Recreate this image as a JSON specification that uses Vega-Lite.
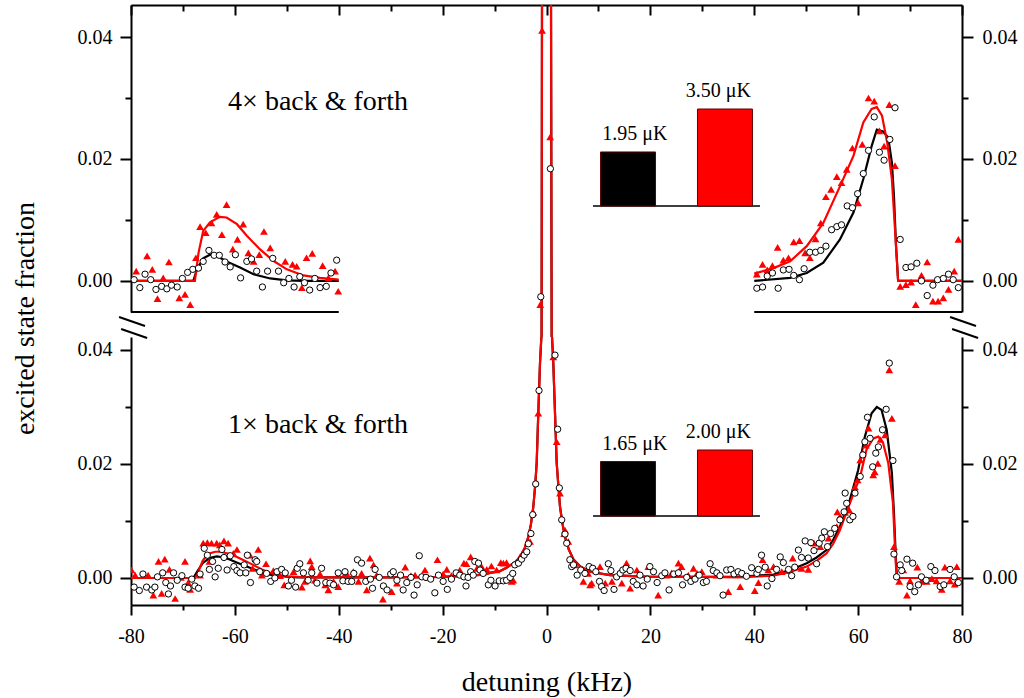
{
"$schema": "https://vega.github.io/schema/vega-lite/v6.json",
"usermeta": {"embedOptions": {"actions": false}},
"background": "white",
"padding": {"left": 10, "top": 4, "right": 5, "bottom": 5},
"spacing": 0,
"bounds": "flush",
"config": {
 "view": {"stroke": null},
 "font": "Liberation Serif",
 "axis": {"labelFont": "Liberation Serif", "titleFont": "Liberation Serif", "labelColor": "black", "titleColor": "black", "domainColor": "black", "tickColor": "black", "grid": false, "labelFontSize": 20, "titleFontSize": 28, "titleFontWeight": "normal", "domainWidth": 2, "tickWidth": 2, "labelFlush": false, "labelOverlap": false}
},
"datasets": {
 "ti": [{"label": "1.95 μK", "T": 1.95, "col": "k"}, {"label": "3.50 μK", "T": 3.5, "col": "r"}],
 "bi": [{"label": "1.65 μK", "T": 1.65, "col": "k"}, {"label": "2.00 μK", "T": 2.0, "col": "r"}],
 "tf": [
  {"c":"k","p":"L","x":-80,"y":0},{"c":"k","p":"L","x":-68,"y":0},{"c":"k","p":"L","x":-67.3,"y":0.0019},{"c":"k","p":"L","x":-66.1,"y":0.0037},{"c":"k","p":"L","x":-64.8,"y":0.0043},{"c":"k","p":"L","x":-63.5,"y":0.0041},{"c":"k","p":"L","x":-61.6,"y":0.0032},{"c":"k","p":"L","x":-59,"y":0.0022},{"c":"k","p":"L","x":-56.4,"y":0.0011},{"c":"k","p":"L","x":-53.2,"y":0.0004},{"c":"k","p":"L","x":-50,"y":0.0001},{"c":"k","p":"L","x":-46.8,"y":0},{"c":"k","p":"L","x":-40,"y":0},
  {"c":"r","p":"L","x":-80,"y":0},{"c":"r","p":"L","x":-67.7,"y":0},{"c":"r","p":"L","x":-67,"y":0.0046},{"c":"r","p":"L","x":-66.1,"y":0.0082},{"c":"r","p":"L","x":-64.8,"y":0.0096},{"c":"r","p":"L","x":-62.9,"y":0.0105},{"c":"r","p":"L","x":-61.6,"y":0.0104},{"c":"r","p":"L","x":-59.6,"y":0.0093},{"c":"r","p":"L","x":-57.7,"y":0.0074},{"c":"r","p":"L","x":-55.2,"y":0.0052},{"c":"r","p":"L","x":-52.6,"y":0.0033},{"c":"r","p":"L","x":-50,"y":0.0019},{"c":"r","p":"L","x":-46.8,"y":0.0009},{"c":"r","p":"L","x":-43.6,"y":0.0005},{"c":"r","p":"L","x":-40,"y":0.0002},
  {"c":"k","p":"C","x":-0.95,"y":-0.012},{"c":"k","p":"C","x":-0.86,"y":0.05},{"c":"k","p":"C","x":0,"y":0.09},{"c":"k","p":"C","x":0.86,"y":0.05},{"c":"k","p":"C","x":1.0,"y":-0.012},
  {"c":"r","p":"C","x":-0.95,"y":-0.012},{"c":"r","p":"C","x":-0.86,"y":0.05},{"c":"r","p":"C","x":0,"y":0.09},{"c":"r","p":"C","x":0.86,"y":0.05},{"c":"r","p":"C","x":1.0,"y":-0.012},
  {"c":"k","p":"R","x":40,"y":0},{"c":"k","p":"R","x":46.9,"y":0.0005},{"c":"k","p":"R","x":50.1,"y":0.0013},{"c":"k","p":"R","x":53.3,"y":0.003},{"c":"k","p":"R","x":56.5,"y":0.0068},{"c":"k","p":"R","x":59.1,"y":0.0112},{"c":"k","p":"R","x":61,"y":0.0167},{"c":"k","p":"R","x":62.6,"y":0.0221},{"c":"k","p":"R","x":63.6,"y":0.0248},{"c":"k","p":"R","x":64.8,"y":0.0245},{"c":"k","p":"R","x":65.8,"y":0.0235},{"c":"k","p":"R","x":66.5,"y":0.0194},{"c":"k","p":"R","x":66.9,"y":0.0139},{"c":"k","p":"R","x":67.3,"y":0.0057},{"c":"k","p":"R","x":67.7,"y":0},{"c":"k","p":"R","x":80,"y":0},
  {"c":"r","p":"R","x":40,"y":0.0012},{"c":"r","p":"R","x":43.7,"y":0.0021},{"c":"r","p":"R","x":46.9,"y":0.0032},{"c":"r","p":"R","x":50.1,"y":0.0057},{"c":"r","p":"R","x":53.3,"y":0.0095},{"c":"r","p":"R","x":56.5,"y":0.0155},{"c":"r","p":"R","x":59.1,"y":0.0205},{"c":"r","p":"R","x":61,"y":0.026},{"c":"r","p":"R","x":62.6,"y":0.0282},{"c":"r","p":"R","x":63.6,"y":0.0285},{"c":"r","p":"R","x":64.6,"y":0.0271},{"c":"r","p":"R","x":65.6,"y":0.0227},{"c":"r","p":"R","x":66.5,"y":0.0167},{"c":"r","p":"R","x":67.1,"y":0.0085},{"c":"r","p":"R","x":67.7,"y":0},{"c":"r","p":"R","x":80,"y":0}
 ],
 "bf": [
  {"c":"k","x":-80,"y":0},{"c":"k","x":-68,"y":0},{"c":"k","x":-67.2,"y":0.0012},{"c":"k","x":-66.2,"y":0.0026},{"c":"k","x":-64.9,"y":0.0035},{"c":"k","x":-63.5,"y":0.0038},{"c":"k","x":-62,"y":0.0036},{"c":"k","x":-60.9,"y":0.0032},{"c":"k","x":-59.3,"y":0.0026},{"c":"k","x":-57.7,"y":0.002},{"c":"k","x":-56,"y":0.0014},{"c":"k","x":-54.6,"y":0.0009},{"c":"k","x":-52.8,"y":0.0005},{"c":"k","x":-51.3,"y":0.0003},{"c":"k","x":-48,"y":0.0001},{"c":"k","x":-30,"y":0.0001},{"c":"k","x":-20,"y":0.0002},{"c":"k","x":-15,"y":0.0004},{"c":"k","x":-12,"y":0.0006},{"c":"k","x":-10.9,"y":0.0009},{"c":"k","x":-9,"y":0.0012},{"c":"k","x":-7.7,"y":0.0018},{"c":"k","x":-6,"y":0.0028},{"c":"k","x":-5.1,"y":0.0037},{"c":"k","x":-4.2,"y":0.0052},{"c":"k","x":-3.5,"y":0.0072},{"c":"k","x":-3,"y":0.0094},{"c":"k","x":-2.54,"y":0.0125},{"c":"k","x":-2.2,"y":0.016},{"c":"k","x":-1.89,"y":0.0202},{"c":"k","x":-1.58,"y":0.0289},{"c":"k","x":-1.25,"y":0.0377},{"c":"k","x":-0.92,"y":0.0435},{"c":"k","x":-0.6,"y":0.055},{"c":"k","x":0,"y":0.074},{"c":"k","x":0.65,"y":0.055},{"c":"k","x":1.0,"y":0.0435},{"c":"k","x":1.31,"y":0.0377},{"c":"k","x":1.64,"y":0.0289},{"c":"k","x":1.96,"y":0.0202},{"c":"k","x":2.3,"y":0.016},{"c":"k","x":2.6,"y":0.0125},{"c":"k","x":3.1,"y":0.0094},{"c":"k","x":3.56,"y":0.0072},{"c":"k","x":4.3,"y":0.005},{"c":"k","x":5.16,"y":0.0033},{"c":"k","x":6.5,"y":0.002},{"c":"k","x":8.4,"y":0.0011},{"c":"k","x":12.2,"y":0.0005},{"c":"k","x":20,"y":0.0002},{"c":"k","x":30,"y":0.0002},{"c":"k","x":37,"y":0.0002},{"c":"k","x":43.7,"y":0.0006},{"c":"k","x":47,"y":0.0014},{"c":"k","x":50.1,"y":0.0026},{"c":"k","x":52,"y":0.0036},{"c":"k","x":53.9,"y":0.0049},{"c":"k","x":55.2,"y":0.0067},{"c":"k","x":56.5,"y":0.009},{"c":"k","x":58.4,"y":0.0137},{"c":"k","x":60,"y":0.0189},{"c":"k","x":61.3,"y":0.0248},{"c":"k","x":62.6,"y":0.0289},{"c":"k","x":63.6,"y":0.03},{"c":"k","x":64.5,"y":0.0295},{"c":"k","x":65.5,"y":0.026},{"c":"k","x":66.5,"y":0.0184},{"c":"k","x":66.9,"y":0.0114},{"c":"k","x":67.3,"y":0.0026},{"c":"k","x":67.5,"y":0},{"c":"k","x":80,"y":0},
  {"c":"r","x":-80,"y":0},{"c":"r","x":-67.6,"y":0},{"c":"r","x":-67,"y":0.0012},{"c":"r","x":-66.2,"y":0.003},{"c":"r","x":-65.2,"y":0.0042},{"c":"r","x":-63.8,"y":0.0046},{"c":"r","x":-62.9,"y":0.0046},{"c":"r","x":-61.3,"y":0.0043},{"c":"r","x":-59.6,"y":0.0037},{"c":"r","x":-58,"y":0.003},{"c":"r","x":-56.5,"y":0.0023},{"c":"r","x":-54.8,"y":0.0015},{"c":"r","x":-53.2,"y":0.0009},{"c":"r","x":-51.5,"y":0.0005},{"c":"r","x":-50,"y":0.0003},{"c":"r","x":-46.2,"y":0.0001},{"c":"r","x":-30,"y":0.0001},{"c":"r","x":-20,"y":0.0002},{"c":"r","x":-15,"y":0.0004},{"c":"r","x":-12,"y":0.0006},{"c":"r","x":-10.9,"y":0.0009},{"c":"r","x":-9,"y":0.0012},{"c":"r","x":-7.7,"y":0.0018},{"c":"r","x":-6,"y":0.0028},{"c":"r","x":-5.1,"y":0.0037},{"c":"r","x":-4.2,"y":0.0052},{"c":"r","x":-3.5,"y":0.0072},{"c":"r","x":-3,"y":0.0094},{"c":"r","x":-2.54,"y":0.0125},{"c":"r","x":-2.2,"y":0.016},{"c":"r","x":-1.89,"y":0.0202},{"c":"r","x":-1.58,"y":0.0289},{"c":"r","x":-1.25,"y":0.0377},{"c":"r","x":-0.92,"y":0.0435},{"c":"r","x":-0.6,"y":0.055},{"c":"r","x":0,"y":0.074},{"c":"r","x":0.65,"y":0.055},{"c":"r","x":1.0,"y":0.0435},{"c":"r","x":1.31,"y":0.0377},{"c":"r","x":1.64,"y":0.0289},{"c":"r","x":1.96,"y":0.0202},{"c":"r","x":2.3,"y":0.016},{"c":"r","x":2.6,"y":0.0125},{"c":"r","x":3.1,"y":0.0094},{"c":"r","x":3.56,"y":0.0072},{"c":"r","x":4.3,"y":0.005},{"c":"r","x":5.16,"y":0.0033},{"c":"r","x":6.5,"y":0.002},{"c":"r","x":8.4,"y":0.0011},{"c":"r","x":12.2,"y":0.0005},{"c":"r","x":20,"y":0.0002},{"c":"r","x":30,"y":0.0002},{"c":"r","x":37,"y":0.0001},{"c":"r","x":43.7,"y":0.0004},{"c":"r","x":47,"y":0.0011},{"c":"r","x":50.1,"y":0.002},{"c":"r","x":52,"y":0.003},{"c":"r","x":53.9,"y":0.0043},{"c":"r","x":55.2,"y":0.006},{"c":"r","x":56.5,"y":0.0084},{"c":"r","x":58.4,"y":0.0131},{"c":"r","x":60.4,"y":0.0178},{"c":"r","x":61.6,"y":0.0225},{"c":"r","x":62.9,"y":0.0245},{"c":"r","x":63.9,"y":0.0248},{"c":"r","x":64.8,"y":0.0237},{"c":"r","x":65.8,"y":0.0202},{"c":"r","x":66.7,"y":0.0132},{"c":"r","x":67.1,"y":0.0055},{"c":"r","x":67.4,"y":0},{"c":"r","x":80,"y":0}
 ],
 "tt": [
  {"x":-79.0,"y":0.0016},{"x":-76.9,"y":0.0041},{"x":-75.9,"y":0.0019},{"x":-74.9,"y":-0.0029},{"x":-73.8,"y":0.0005},{"x":-72.7,"y":0.0031},{"x":-70.7,"y":-0.0028},{"x":-69.6,"y":-0.0022},{"x":-68.6,"y":-0.0039},{"x":-67.5,"y":0.0038},{"x":-66.7,"y":0.0089},{"x":-65.6,"y":0.0079},{"x":-64.5,"y":0.0095},{"x":-63.5,"y":0.0109},{"x":-62.5,"y":0.0076},{"x":-61.6,"y":0.0125},{"x":-60.4,"y":0.0052},{"x":-59.5,"y":0.0068},{"x":-58.4,"y":0.0093},{"x":-57.4,"y":0.0046},{"x":-56.4,"y":0.0032},{"x":-55.3,"y":0.0043},{"x":-54.4,"y":0.0081},{"x":-53.2,"y":0.0054},{"x":-50.3,"y":0.0032},{"x":-48.9,"y":0.0027},{"x":-48.1,"y":0.0024},{"x":-47.1,"y":-0.0011},{"x":-46.2,"y":0.0038},{"x":-45.1,"y":0.0045},{"x":-43.1,"y":0.0025},{"x":-42.0,"y":0.0005},{"x":-40.7,"y":0.0016},{"x":-40.1,"y":-0.0017},
  {"x":-1.2,"y":-0.0039},{"x":-0.85,"y":0.0411},{"x":0.7,"y":0.0236},
  {"x":40.5,"y":0.0011},{"x":41.6,"y":0.0027},{"x":42.5,"y":0.0018},{"x":43.5,"y":0.0025},{"x":44.5,"y":0.0055},{"x":45.6,"y":0.0034},{"x":46.6,"y":0.0038},{"x":47.6,"y":0.0064},{"x":48.7,"y":0.0066},{"x":49.8,"y":0.0046},{"x":50.7,"y":0.0038},{"x":51.8,"y":0.0069},{"x":52.8,"y":0.0095},{"x":53.8,"y":0.0138},{"x":54.8,"y":0.015},{"x":55.9,"y":0.0171},{"x":56.8,"y":0.0161},{"x":57.8,"y":0.0183},{"x":58.9,"y":0.0218},{"x":60.0,"y":0.0128},{"x":60.8,"y":0.0224},{"x":62.0,"y":0.030},{"x":63.1,"y":0.0295},{"x":64.1,"y":0.0246},{"x":65.0,"y":0.0221},{"x":66.0,"y":0.0289},{"x":67.1,"y":0.0189},{"x":68.1,"y":-0.0009},{"x":69.2,"y":-0.0006},{"x":70.2,"y":-0.0002},{"x":71.1,"y":-0.0039},{"x":72.2,"y":0.0009},{"x":73.3,"y":0.0031},{"x":74.4,"y":-0.0033},{"x":75.4,"y":-0.0033},{"x":76.4,"y":-0.0028},{"x":77.4,"y":-0.0014},{"x":78.5,"y":0.0016},{"x":79.3,"y":0.0068}
 ],
 "tc": [
  {"x":-79.4,"y":0.0002},{"x":-78.3,"y":-0.0011},{"x":-77.3,"y":0.0011},{"x":-76.2,"y":0.0002},{"x":-75.2,"y":-0.0014},{"x":-74.1,"y":-0.0009},{"x":-73.1,"y":-0.0013},{"x":-72.2,"y":-0.0007},{"x":-71.1,"y":-0.001},{"x":-70.1,"y":0.0004},{"x":-69.1,"y":0.0014},{"x":-68.1,"y":0.0019},{"x":-67.0,"y":0.0021},{"x":-66.1,"y":0.0032},{"x":-65.0,"y":0.005},{"x":-64.0,"y":0.0042},{"x":-63.0,"y":0.0042},{"x":-61.9,"y":0.0031},{"x":-60.9,"y":0.0023},{"x":-59.9,"y":0.0043},{"x":-58.9,"y":0.0005},{"x":-57.7,"y":0.0032},{"x":-56.8,"y":0.0036},{"x":-55.8,"y":0.0016},{"x":-54.7,"y":-0.001},{"x":-53.7,"y":0.0016},{"x":-52.7,"y":0.0037},{"x":-51.6,"y":0.0016},{"x":-50.6,"y":-0.0003},{"x":-49.6,"y":0.0004},{"x":-48.6,"y":-0.001},{"x":-47.5,"y":0.0007},{"x":-46.6,"y":-0.0003},{"x":-45.6,"y":-0.0015},{"x":-44.6,"y":0.0004},{"x":-43.6,"y":-0.0011},{"x":-42.4,"y":-0.0009},{"x":-41.5,"y":0.0013},{"x":-40.4,"y":0.0034},
  {"x":-1.1,"y":-0.0026},{"x":0.75,"y":0.0184},
  {"x":40.5,"y":-0.0012},{"x":41.6,"y":-0.001},{"x":42.5,"y":0.0008},{"x":43.5,"y":0.0013},{"x":44.6,"y":-0.0012},{"x":45.6,"y":0.0018},{"x":46.7,"y":0.0019},{"x":47.6,"y":0.0009},{"x":48.7,"y":0.0002},{"x":49.6,"y":0.002},{"x":50.7,"y":0.0047},{"x":51.8,"y":0.0047},{"x":52.8,"y":0.005},{"x":53.8,"y":0.0057},{"x":54.9,"y":0.0084},{"x":55.9,"y":0.0089},{"x":56.8,"y":0.0092},{"x":57.9,"y":0.0123},{"x":58.9,"y":0.012},{"x":59.9,"y":0.0143},{"x":61.0,"y":0.0176},{"x":62.0,"y":0.0214},{"x":63.1,"y":0.0269},{"x":64.1,"y":0.0211},{"x":65.0,"y":0.0198},{"x":66.1,"y":0.0232},{"x":67.1,"y":0.0284},{"x":68.1,"y":0.0068},{"x":69.2,"y":0.0022},{"x":70.2,"y":0.0023},{"x":71.3,"y":0.0029},{"x":72.2,"y":0},{"x":73.3,"y":-0.0024},{"x":74.4,"y":-0.0007},{"x":75.3,"y":0.0002},{"x":76.4,"y":0.0004},{"x":77.4,"y":0.0011},{"x":78.3,"y":0.0002},{"x":79.3,"y":-0.0011}
 ],
 "bt": [
  {"x":-79.9,"y":0.0014},{"x":-79.2,"y":0.0005},{"x":-76.7,"y":0.0005},{"x":-75.7,"y":-0.003},{"x":-74.7,"y":0.0029},{"x":-74.1,"y":-0.0027},{"x":-73.5,"y":0.0033},{"x":-72.6,"y":0.0015},{"x":-71.5,"y":-0.0036},{"x":-70.4,"y":0.0001},{"x":-69.6,"y":0.0029},{"x":-69.0,"y":-0.0008},{"x":-68.6,"y":-0.002},{"x":-66.7,"y":0.0005},{"x":-66.1,"y":0.0061},{"x":-65.3,"y":0.0062},{"x":-64.9,"y":0.0029},{"x":-64.5,"y":0.0061},{"x":-63.5,"y":0.0061},{"x":-62.9,"y":0.0058},{"x":-62.1,"y":0.0065},{"x":-61.3,"y":0.0061},{"x":-60.3,"y":0.0043},{"x":-59.6,"y":0.005},{"x":-57.1,"y":0.004},{"x":-56.6,"y":0.0017},{"x":-55.5,"y":0.005},{"x":-54.8,"y":0.0005},{"x":-54.0,"y":0.0025},{"x":-52.6,"y":0.0013},{"x":-51.3,"y":0.0004},{"x":-50.5,"y":-0.0012},{"x":-48.7,"y":0.0011},{"x":-47.1,"y":-0.0016},{"x":-46.5,"y":-0.0006},{"x":-45.5,"y":0.003},{"x":-45.2,"y":0.002},{"x":-44.6,"y":-0.0004},{"x":-43.6,"y":0.0007},{"x":-42.6,"y":-0.0012},{"x":-42.0,"y":-0.0021},{"x":-41.0,"y":-0.0006},{"x":-40.1,"y":-0.0015},{"x":-39.1,"y":0.0002},{"x":-38.5,"y":0.0008},{"x":-37.2,"y":0.0011},{"x":-36.2,"y":-0.0006},{"x":-35.6,"y":0.0008},{"x":-34.6,"y":-0.0021},{"x":-34.0,"y":0.0035},{"x":-33.3,"y":0.0023},{"x":-32.7,"y":0.0005},{"x":-31.5,"y":-0.0037},{"x":-29.8,"y":-0.0024},{"x":-28.8,"y":-0.0009},{"x":-27.2,"y":0.0019},{"x":-26.1,"y":0.0004},{"x":-25.3,"y":0.0005},{"x":-23.4,"y":0.0014},{"x":-22.8,"y":0.0001},{"x":-21.0,"y":0.0032},{"x":-19.9,"y":0.0007},{"x":-19.2,"y":0.0015},{"x":-18.3,"y":0.0004},{"x":-16.7,"y":0.0014},{"x":-15.9,"y":0.0026},{"x":-15.4,"y":0.0025},{"x":-14.6,"y":0.0037},{"x":-13.4,"y":0.0017},{"x":-12.5,"y":0.002},{"x":-11.5,"y":0.0015},{"x":-10.6,"y":0.0021},{"x":-9.6,"y":0.0014},{"x":-8.8,"y":0.0027},{"x":-8.3,"y":0.0026},{"x":-7.7,"y":0.0027},{"x":-6.7,"y":-0.0006},{"x":-6.4,"y":-0.0004},{"x":-5.9,"y":0.0026},{"x":-5.1,"y":0.0037},{"x":-4.47,"y":0.0044},{"x":-4.1,"y":0.0046},{"x":-3.5,"y":0.0064},{"x":-3.18,"y":0.0064},{"x":-2.54,"y":0.0115},{"x":-1.58,"y":0.0289},
  {"x":1.31,"y":0.0388},{"x":1.96,"y":0.0239},{"x":2.6,"y":0.0149},{"x":3.4,"y":0.0078},{"x":3.56,"y":0.0084},{"x":4.2,"y":0.0064},{"x":5.5,"y":0.0023},{"x":7.1,"y":-0.0006},{"x":8.0,"y":0.0008},{"x":8.4,"y":-0.0012},{"x":8.7,"y":-0.0009},{"x":10.3,"y":0.002},{"x":11.3,"y":-0.0009},{"x":12.6,"y":-0.0006},{"x":14.5,"y":-0.0009},{"x":15.4,"y":0.0026},{"x":16.1,"y":-0.0018},{"x":17.4,"y":0.0014},{"x":19.6,"y":0.002},{"x":21.5,"y":-0.003},{"x":23.1,"y":0.0005},{"x":24.1,"y":0.0009},{"x":25.4,"y":0.0026},{"x":26.0,"y":0.002},{"x":27.3,"y":0.0005},{"x":28.3,"y":0.0017},{"x":29.0,"y":0.0008},{"x":29.9,"y":0.0011},{"x":32.8,"y":0.0005},{"x":35.0,"y":-0.0024},{"x":37.3,"y":-0.0015},{"x":40.1,"y":-0.0022},{"x":40.8,"y":-0.0008},{"x":41.6,"y":0.0032},{"x":42.7,"y":0.0014},{"x":43.7,"y":0.002},{"x":45.3,"y":0.0011},{"x":46.9,"y":0.0013},{"x":47.4,"y":0.0035},{"x":49.1,"y":0.0017},{"x":50.4,"y":0.0015},{"x":51.5,"y":0.0061},{"x":52.7,"y":0.0055},{"x":54.3,"y":0.007},{"x":55.9,"y":0.009},{"x":56.0,"y":0.0116},{"x":56.5,"y":0.0108},{"x":57.5,"y":0.0115},{"x":58.3,"y":0.0119},{"x":59.4,"y":0.016},{"x":59.9,"y":0.0172},{"x":60.4,"y":0.0207},{"x":60.9,"y":0.0219},{"x":61.5,"y":0.0233},{"x":62.0,"y":0.0263},{"x":62.9,"y":0.0181},{"x":63.2,"y":0.0186},{"x":63.8,"y":0.0201},{"x":64.3,"y":0.0243},{"x":65.2,"y":0.0251},{"x":66.0,"y":0.0365},{"x":66.5,"y":0.028},{"x":66.9,"y":0.0055},{"x":67.9,"y":-0.0006},{"x":68.7,"y":0.0014},{"x":69.4,"y":-0.003},{"x":70.0,"y":-0.0005},{"x":71.4,"y":0.0019},{"x":72.2,"y":-0.0006},{"x":73.2,"y":-0.0006},{"x":74.2,"y":-0.0001},{"x":75.1,"y":-0.0005},{"x":76.1,"y":-0.002},{"x":76.7,"y":0.0019},{"x":77.7,"y":-0.0005},{"x":78.6,"y":-0.0011},{"x":79.0,"y":0.002}
 ],
 "bc": [
  {"x":-79.4,"y":-0.0016},{"x":-78.4,"y":-0.0022},{"x":-77.7,"y":0.0007},{"x":-77.0,"y":-0.0016},{"x":-76.0,"y":-0.0021},{"x":-75.4,"y":-0.0016},{"x":-74.9,"y":0.0002},{"x":-73.9,"y":0.0009},{"x":-73.3,"y":-0.0008},{"x":-72.8,"y":-0.0028},{"x":-72.4,"y":-0.0014},{"x":-71.8,"y":0.0009},{"x":-71.1,"y":-0.0004},{"x":-70.2,"y":0.0004},{"x":-69.6,"y":-0.0016},{"x":-69.0,"y":-0.0018},{"x":-68.3,"y":-0.0002},{"x":-67.7,"y":-0.0014},{"x":-67.0,"y":-0.0018},{"x":-66.7,"y":0.0007},{"x":-65.9,"y":0.0052},{"x":-65.3,"y":0.004},{"x":-64.9,"y":0.0015},{"x":-64.3,"y":0.0029},{"x":-63.8,"y":0.0002},{"x":-63.2,"y":0.0017},{"x":-62.5,"y":0.005},{"x":-62.1,"y":0.0036},{"x":-61.5,"y":0.0014},{"x":-60.9,"y":0.0039},{"x":-60.2,"y":0.002},{"x":-59.6,"y":0.0013},{"x":-59.0,"y":0.0009},{"x":-58.2,"y":0.0023},{"x":-57.9,"y":0.0009},{"x":-57.6,"y":0.004},{"x":-57.0,"y":-0.0008},{"x":-56.1,"y":0.0032},{"x":-55.8,"y":0.0029},{"x":-55.2,"y":0.0011},{"x":-53.9,"y":0.0008},{"x":-53.1,"y":-0.0006},{"x":-52.3,"y":0},{"x":-51.9,"y":0.0011},{"x":-51.0,"y":0.0015},{"x":-50.3,"y":0.0009},{"x":-49.7,"y":-0.0014},{"x":-49.1,"y":-0.0004},{"x":-48.3,"y":-0.0016},{"x":-48.0,"y":0.0017},{"x":-47.5,"y":0.0025},{"x":-46.8,"y":0.0009},{"x":-45.9,"y":-0.0004},{"x":-45.2,"y":0.0009},{"x":-44.2,"y":-0.0009},{"x":-43.3,"y":0.0017},{"x":-42.5,"y":-0.0008},{"x":-41.7,"y":-0.0009},{"x":-41.0,"y":-0.0012},{"x":-40.1,"y":0.0009},{"x":-39.2,"y":-0.0005},{"x":-38.8,"y":0.0011},{"x":-38.2,"y":-0.0006},{"x":-37.5,"y":-0.0006},{"x":-37.1,"y":0.0008},{"x":-36.4,"y":0.0032},{"x":-35.6,"y":0.0026},{"x":-34.8,"y":-0.0006},{"x":-33.9,"y":-0.0002},{"x":-33.5,"y":-0.0018},{"x":-33.0,"y":0.0015},{"x":-32.2,"y":0.0001},{"x":-31.4,"y":-0.0014},{"x":-30.7,"y":-0.0021},{"x":-30.0,"y":0.0007},{"x":-29.5,"y":0.0011},{"x":-28.8,"y":-0.0004},{"x":-28.1,"y":0.0005},{"x":-27.6,"y":-0.0021},{"x":-26.9,"y":-0.0008},{"x":-26.1,"y":0.0001},{"x":-25.5,"y":-0.003},{"x":-24.9,"y":-0.0012},{"x":-24.5,"y":0.0039},{"x":-24.0,"y":0.0002},{"x":-23.2,"y":0.0001},{"x":-22.3,"y":-0.0002},{"x":-21.5,"y":-0.0026},{"x":-20.8,"y":0.0005},{"x":-19.9,"y":-0.0006},{"x":-19.1,"y":-0.002},{"x":-18.3,"y":-0.0002},{"x":-17.4,"y":0.0009},{"x":-16.7,"y":0.0005},{"x":-15.9,"y":0.0002},{"x":-15.5,"y":-0.0014},{"x":-15.1,"y":0.0001},{"x":-14.6,"y":0.0011},{"x":-14.1,"y":0.0005},{"x":-13.8,"y":0.0029},{"x":-13.1,"y":0.0026},{"x":-12.8,"y":0.0014},{"x":-12.2,"y":0.0008},{"x":-11.2,"y":-0.0012},{"x":-10.7,"y":-0.0004},{"x":-9.9,"y":-0.0014},{"x":-9.1,"y":-0.0005},{"x":-8.3,"y":-0.0005},{"x":-7.7,"y":-0.0004},{"x":-7.0,"y":0.0001},{"x":-6.5,"y":0.0008},{"x":-6.1,"y":0.0023},{"x":-5.4,"y":0.0026},{"x":-4.8,"y":0.0033},{"x":-4.3,"y":0.004},{"x":-3.8,"y":0.0046},{"x":-3.5,"y":0.006},{"x":-3.0,"y":0.0078},{"x":-2.66,"y":0.0111},{"x":-2.08,"y":0.0165},{"x":-1.44,"y":0.0329},
  {"x":1.64,"y":0.0391},{"x":2.15,"y":0.0261},{"x":2.47,"y":0.0158},{"x":2.93,"y":0.0102},{"x":3.56,"y":0.0077},{"x":3.89,"y":0.0061},{"x":4.5,"y":0.0032},{"x":4.85,"y":0.002},{"x":5.2,"y":0.0023},{"x":5.9,"y":0.0005},{"x":6.6,"y":0.0014},{"x":7.4,"y":0.0008},{"x":8.2,"y":0.002},{"x":8.9,"y":0.0017},{"x":9.5,"y":0.0011},{"x":10.2,"y":-0.0006},{"x":10.6,"y":-0.0015},{"x":11.1,"y":-0.0022},{"x":11.9,"y":0.0025},{"x":12.4,"y":0.0013},{"x":13.0,"y":-0.002},{"x":13.5,"y":0.0002},{"x":14.2,"y":0.0008},{"x":14.7,"y":0.0014},{"x":15.3,"y":0.0017},{"x":16.1,"y":0.0013},{"x":16.7,"y":-0.0006},{"x":17.4,"y":-0.0012},{"x":18.0,"y":0.0005},{"x":18.6,"y":-0.0014},{"x":19.4,"y":-0.0002},{"x":19.9,"y":0.002},{"x":20.6,"y":0.0011},{"x":21.3,"y":-0.0008},{"x":22.2,"y":0.0004},{"x":22.8,"y":0.0009},{"x":23.6,"y":-0.0021},{"x":24.5,"y":0.0007},{"x":25.4,"y":0.0009},{"x":26.2,"y":-0.0012},{"x":27.0,"y":0.0001},{"x":27.8,"y":-0.0006},{"x":28.6,"y":-0.0002},{"x":29.4,"y":0.0005},{"x":30.2,"y":-0.0008},{"x":30.8,"y":-0.0006},{"x":31.5,"y":0.0025},{"x":32.1,"y":0.0013},{"x":32.8,"y":0.0009},{"x":33.4,"y":0.0004},{"x":34.0,"y":-0.003},{"x":34.7,"y":0.0014},{"x":35.5,"y":0.0015},{"x":36.1,"y":0.0007},{"x":36.9,"y":0.0011},{"x":37.6,"y":0.0008},{"x":38.5,"y":0.0003},{"x":39.5,"y":0.0018},{"x":40.5,"y":0.0008},{"x":40.8,"y":0.0015},{"x":41.4,"y":0.004},{"x":42.1,"y":0.0019},{"x":42.5,"y":-0.0014},{"x":43.4,"y":-0.0001},{"x":44.3,"y":0.0015},{"x":45.0,"y":0.0037},{"x":45.6,"y":0.0027},{"x":46.6,"y":0.0015},{"x":47.2,"y":0.0004},{"x":47.8,"y":0.0019},{"x":48.5,"y":0.0049},{"x":49.1,"y":0.0036},{"x":49.8,"y":0.0065},{"x":50.4,"y":0.0035},{"x":50.9,"y":0.0062},{"x":51.5,"y":0.0048},{"x":52.0,"y":0.0025},{"x":52.5,"y":0.0061},{"x":53.0,"y":0.007},{"x":53.5,"y":0.0081},{"x":54.1,"y":0.0055},{"x":54.7,"y":0.0078},{"x":55.5,"y":0.0087},{"x":56.5,"y":0.0102},{"x":57.3,"y":0.0116},{"x":57.5,"y":0.0149},{"x":57.8,"y":0.0131},{"x":58.4,"y":0.0102},{"x":59.0,"y":0.0108},{"x":59.4,"y":0.0149},{"x":60.4,"y":0.0178},{"x":60.9,"y":0.0216},{"x":61.3,"y":0.0239},{"x":61.8,"y":0.0282},{"x":62.3,"y":0.0245},{"x":62.8,"y":0.0195},{"x":63.4,"y":0.0219},{"x":63.9,"y":0.023},{"x":64.7,"y":0.026},{"x":65.4,"y":0.0296},{"x":66.0,"y":0.0377},{"x":66.7,"y":0.0206},{"x":66.9,"y":0.0042},{"x":67.4,"y":0.0002},{"x":68.1,"y":0.0023},{"x":68.4,"y":0.0013},{"x":69.4,"y":0.0033},{"x":70.0,"y":-0.0015},{"x":70.5,"y":0.0026},{"x":70.9,"y":-0.0024},{"x":71.6,"y":-0.0012},{"x":72.2,"y":0.0002},{"x":73.1,"y":-0.0004},{"x":74.0,"y":0.002},{"x":74.8,"y":0.0013},{"x":75.8,"y":-0.0015},{"x":76.5,"y":-0.0012},{"x":77.7,"y":0.0015},{"x":78.5,"y":0.0002},{"x":79.3,"y":-0.0008}
 ]
},
"vconcat": [
 {
  "width": 831, "height": 332,
  "layer": [
   {"data": {"name": "tf"}, "transform": [{"filter": "datum.c == 'k'"}],
    "mark": {"type": "line", "color": "black", "strokeWidth": 2.2, "clip": true},
    "encoding": {
     "x": {"field": "x", "type": "quantitative", "scale": {"domain": [-80, 80], "nice": false, "zero": false},
      "axis": {"orient": "top", "values": [-80,-60,-40,-20,0,20,40,60,80], "labels": false, "title": null, "tickSize": -10}},
     "y": {"field": "y", "type": "quantitative", "scale": {"domain": [-0.0051, 0.04525], "range": [307, 0], "nice": false, "zero": false},
      "axis": {"orient": "left", "values": [0, 0.01, 0.02, 0.03, 0.04], "labelExpr": "round(datum.value*100) % 2 == 0 ? format(datum.value, '.2f') : ''", "tickSize": {"condition": {"test": "round(datum.value*100) % 2 == 0", "value": 11}, "value": 6}, "labelPadding": 8, "title": null}},
     "detail": {"field": "p", "type": "nominal"}
    }},
   {"data": {"name": "tf"}, "transform": [{"filter": "datum.c == 'r'"}],
    "mark": {"type": "line", "color": "#ff0000", "strokeWidth": 2.2, "clip": true},
    "encoding": {
     "x": {"field": "x", "type": "quantitative", "scale": {"domain": [-80, 80], "nice": false, "zero": false},
      "axis": {"orient": "top", "values": [-70,-50,-30,-10,10,30,50,70], "labels": false, "domain": false, "title": null, "tickSize": -6}},
     "y": {"field": "y", "type": "quantitative", "scale": {"domain": [-0.0051, 0.04525], "range": [307, 0], "nice": false, "zero": false},
      "axis": {"orient": "right", "values": [0, 0.01, 0.02, 0.03, 0.04], "labelExpr": "round(datum.value*100) % 2 == 0 ? format(datum.value, '.2f') : ''", "tickSize": {"condition": {"test": "round(datum.value*100) % 2 == 0", "value": 11}, "value": 6}, "labelPadding": 9, "title": null}},
     "detail": {"field": "p", "type": "nominal"}
    }},
   {"data": {"name": "tt"},
    "mark": {"type": "point", "shape": "triangle-up", "filled": true, "color": "#ff0000", "size": 60, "opacity": 1, "clip": true},
    "encoding": {"x": {"field": "x", "type": "quantitative", "scale": {"domain": [-80, 80], "nice": false, "zero": false}, "axis": null}, "y": {"field": "y", "type": "quantitative", "scale": {"domain": [-0.0051, 0.04525], "range": [307, 0], "nice": false, "zero": false}, "axis": null}}},
   {"data": {"name": "tc"},
    "mark": {"type": "point", "shape": "circle", "filled": true, "fill": "white", "stroke": "black", "strokeWidth": 1, "size": 40, "opacity": 1, "clip": true},
    "encoding": {"x": {"field": "x", "type": "quantitative", "scale": {"domain": [-80, 80], "nice": false, "zero": false}, "axis": null}, "y": {"field": "y", "type": "quantitative", "scale": {"domain": [-0.0051, 0.04525], "range": [307, 0], "nice": false, "zero": false}, "axis": null}}},
   {"data": {"values": [{}]}, "mark": {"type": "rule", "color": "black", "strokeWidth": 2, "clip": false},
    "encoding": {"x": {"datum": -80, "scale": {"domain": [-80, 80], "nice": false, "zero": false}, "axis": null}, "x2": {"datum": -40}, "y": {"datum": -0.0051, "scale": {"domain": [-0.0051, 0.04525], "range": [307, 0], "nice": false, "zero": false}, "axis": null}}},
   {"data": {"values": [{}]}, "mark": {"type": "rule", "color": "black", "strokeWidth": 2, "clip": false},
    "encoding": {"x": {"datum": 40, "scale": {"domain": [-80, 80], "nice": false, "zero": false}, "axis": null}, "x2": {"datum": 80}, "y": {"datum": -0.0051, "scale": {"domain": [-0.0051, 0.04525], "range": [307, 0], "nice": false, "zero": false}, "axis": null}}},
   {"data": {"values": [{}]}, "mark": {"type": "rule", "color": "black", "strokeWidth": 1.5, "clip": false},
    "encoding": {"x": {"datum": 8.95, "scale": {"domain": [-80, 80], "nice": false, "zero": false}, "axis": null}, "x2": {"datum": 41.1}, "y": {"datum": 0.012285, "scale": {"domain": [-0.0051, 0.04525], "range": [307, 0], "nice": false, "zero": false}, "axis": null}}},
   {"data": {"values": [{}]}, "mark": {"type": "text", "align": "left", "baseline": "alphabetic", "fontSize": 28, "font": "Liberation Serif", "color": "black"},
    "encoding": {"x": {"datum": -61.3, "scale": {"domain": [-80, 80], "nice": false, "zero": false}, "axis": null}, "y": {"datum": 0.02795, "scale": {"domain": [-0.0051, 0.04525], "range": [307, 0], "nice": false, "zero": false}, "axis": null}, "text": {"value": "4× back & forth"}}},
   {"data": {"name": "ti"},
    "mark": {"type": "bar", "stroke": "#600000", "strokeWidth": 1},
    "encoding": {
     "x": {"field": "label", "type": "nominal", "sort": null, "scale": {"range": [462, 629], "paddingInner": 0.433, "paddingOuter": 0.078}, "axis": null},
     "y": {"field": "T", "type": "quantitative", "scale": {"domain": [0, 3.5], "range": [201, 104], "nice": false}, "axis": null},
     "color": {"field": "col", "type": "nominal", "scale": {"domain": ["k", "r"], "range": ["black", "#ff0000"]}, "legend": null}
    }},
   {"data": {"name": "ti"},
    "mark": {"type": "text", "baseline": "alphabetic", "dy": -12, "fontSize": 20, "font": "Liberation Serif", "color": "black"},
    "encoding": {
     "x": {"field": "label", "type": "nominal", "sort": null, "scale": {"range": [462, 629], "paddingInner": 0.433, "paddingOuter": 0.078}, "axis": null},
     "y": {"field": "T", "type": "quantitative", "scale": {"domain": [0, 3.5], "range": [201, 104], "nice": false}, "axis": null},
     "text": {"field": "label"}
    }}
  ],
  "resolve": {"scale": {"x": "independent", "y": "independent"}, "axis": {"x": "independent", "y": "independent"}}
 },
 {
  "width": 831, "height": 268,
  "layer": [
   {"data": {"name": "bf"}, "transform": [{"filter": "datum.c == 'k'"}],
    "mark": {"type": "line", "color": "black", "strokeWidth": 2.2, "clip": true},
    "encoding": {
     "x": {"field": "x", "type": "quantitative", "scale": {"domain": [-80, 80], "nice": false, "zero": false},
      "axis": {"orient": "bottom", "values": [-80,-60,-40,-20,0,20,40,60,80], "labelExpr": "'' + datum.value", "tickSize": 10, "labelPadding": 11, "title": "detuning (kHz)", "titleY": 85, "titleBaseline": "alphabetic"}},
     "y": {"field": "y", "type": "quantitative", "scale": {"domain": [-0.00474, 0.04228], "nice": false, "zero": false},
      "axis": {"orient": "left", "values": [0, 0.01, 0.02, 0.03, 0.04], "labelExpr": "round(datum.value*100) % 2 == 0 ? format(datum.value, '.2f') : ''", "tickSize": {"condition": {"test": "round(datum.value*100) % 2 == 0", "value": 11}, "value": 6}, "labelPadding": 8, "title": "excited state fraction", "titleX": -98, "titleY": -19, "titleAngle": -90, "titleAlign": "center", "titleBaseline": "alphabetic"}}
    }},
   {"data": {"name": "bf"}, "transform": [{"filter": "datum.c == 'r'"}],
    "mark": {"type": "line", "color": "#ff0000", "strokeWidth": 2.2, "clip": true},
    "encoding": {
     "x": {"field": "x", "type": "quantitative", "scale": {"domain": [-80, 80], "nice": false, "zero": false},
      "axis": {"orient": "bottom", "values": [-70,-50,-30,-10,10,30,50,70], "labels": false, "domain": false, "title": null, "tickSize": 5}},
     "y": {"field": "y", "type": "quantitative", "scale": {"domain": [-0.00474, 0.04228], "nice": false, "zero": false},
      "axis": {"orient": "right", "values": [0, 0.01, 0.02, 0.03, 0.04], "labelExpr": "round(datum.value*100) % 2 == 0 ? format(datum.value, '.2f') : ''", "tickSize": {"condition": {"test": "round(datum.value*100) % 2 == 0", "value": 11}, "value": 6}, "labelPadding": 9, "title": null}}
    }},
   {"data": {"name": "bt"},
    "mark": {"type": "point", "shape": "triangle-up", "filled": true, "color": "#ff0000", "size": 60, "opacity": 1, "clip": true},
    "encoding": {"x": {"field": "x", "type": "quantitative", "scale": {"domain": [-80, 80], "nice": false, "zero": false}, "axis": null}, "y": {"field": "y", "type": "quantitative", "scale": {"domain": [-0.00474, 0.04228], "nice": false, "zero": false}, "axis": null}}},
   {"data": {"name": "bc"},
    "mark": {"type": "point", "shape": "circle", "filled": true, "fill": "white", "stroke": "black", "strokeWidth": 1, "size": 40, "opacity": 1, "clip": true},
    "encoding": {"x": {"field": "x", "type": "quantitative", "scale": {"domain": [-80, 80], "nice": false, "zero": false}, "axis": null}, "y": {"field": "y", "type": "quantitative", "scale": {"domain": [-0.00474, 0.04228], "nice": false, "zero": false}, "axis": null}}},
   {"data": {"values": [{}]}, "mark": {"type": "rule", "color": "black", "strokeWidth": 2, "clip": false},
    "encoding": {"x": {"datum": -82.3, "scale": {"domain": [-80, 80], "nice": false, "zero": false}, "axis": null}, "x2": {"datum": -77.3}, "y": {"datum": 0.04579, "scale": {"domain": [-0.00474, 0.04228], "nice": false, "zero": false}, "axis": null}, "y2": {"datum": 0.04421}}},
   {"data": {"values": [{}]}, "mark": {"type": "rule", "color": "black", "strokeWidth": 2, "clip": false},
    "encoding": {"x": {"datum": -81.9, "scale": {"domain": [-80, 80], "nice": false, "zero": false}, "axis": null}, "x2": {"datum": -76.9}, "y": {"datum": 0.04368, "scale": {"domain": [-0.00474, 0.04228], "nice": false, "zero": false}, "axis": null}, "y2": {"datum": 0.04211}}},
   {"data": {"values": [{}]}, "mark": {"type": "rule", "color": "black", "strokeWidth": 2, "clip": false},
    "encoding": {"x": {"datum": 77.7, "scale": {"domain": [-80, 80], "nice": false, "zero": false}, "axis": null}, "x2": {"datum": 82.7}, "y": {"datum": 0.04579, "scale": {"domain": [-0.00474, 0.04228], "nice": false, "zero": false}, "axis": null}, "y2": {"datum": 0.04421}}},
   {"data": {"values": [{}]}, "mark": {"type": "rule", "color": "black", "strokeWidth": 2, "clip": false},
    "encoding": {"x": {"datum": 78.1, "scale": {"domain": [-80, 80], "nice": false, "zero": false}, "axis": null}, "x2": {"datum": 83.1}, "y": {"datum": 0.04368, "scale": {"domain": [-0.00474, 0.04228], "nice": false, "zero": false}, "axis": null}, "y2": {"datum": 0.04211}}},
   {"data": {"values": [{}]}, "mark": {"type": "rule", "color": "black", "strokeWidth": 1.5, "clip": false},
    "encoding": {"x": {"datum": 8.95, "scale": {"domain": [-80, 80], "nice": false, "zero": false}, "axis": null}, "x2": {"datum": 41.1}, "y": {"datum": 0.010875, "scale": {"domain": [-0.00474, 0.04228], "nice": false, "zero": false}, "axis": null}}},
   {"data": {"values": [{}]}, "mark": {"type": "text", "align": "left", "baseline": "alphabetic", "fontSize": 28, "font": "Liberation Serif", "color": "black"},
    "encoding": {"x": {"datum": -61.3, "scale": {"domain": [-80, 80], "nice": false, "zero": false}, "axis": null}, "y": {"datum": 0.02544, "scale": {"domain": [-0.00474, 0.04228], "nice": false, "zero": false}, "axis": null}, "text": {"value": "1× back & forth"}}},
   {"data": {"name": "bi"},
    "mark": {"type": "bar", "stroke": "#600000", "strokeWidth": 1},
    "encoding": {
     "x": {"field": "label", "type": "nominal", "sort": null, "scale": {"range": [462, 629], "paddingInner": 0.433, "paddingOuter": 0.078}, "axis": null},
     "y": {"field": "T", "type": "quantitative", "scale": {"domain": [0, 2], "range": [179, 113], "nice": false}, "axis": null},
     "color": {"field": "col", "type": "nominal", "scale": {"domain": ["k", "r"], "range": ["black", "#ff0000"]}, "legend": null}
    }},
   {"data": {"name": "bi"},
    "mark": {"type": "text", "baseline": "alphabetic", "dy": -12, "fontSize": 20, "font": "Liberation Serif", "color": "black"},
    "encoding": {
     "x": {"field": "label", "type": "nominal", "sort": null, "scale": {"range": [462, 629], "paddingInner": 0.433, "paddingOuter": 0.078}, "axis": null},
     "y": {"field": "T", "type": "quantitative", "scale": {"domain": [0, 2], "range": [179, 113], "nice": false}, "axis": null},
     "text": {"field": "label"}
    }}
  ],
  "resolve": {"scale": {"x": "independent", "y": "independent"}, "axis": {"x": "independent", "y": "independent"}}
 }
]
}
